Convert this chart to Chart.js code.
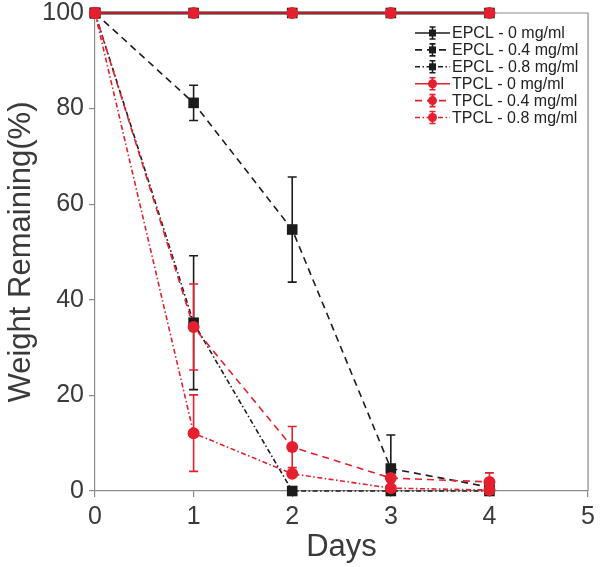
<!DOCTYPE html>
<html>
<head>
<meta charset="utf-8">
<script src="https://cdn.jsdelivr.net/npm/chart.js@4"></script>
<style>
  html, body { margin: 0; padding: 0; background: #fff; }
  #wrap { width: 600px; height: 567px; }
</style>
</head>
<body>
<div id="wrap"><canvas id="weightChart" width="600" height="567"></canvas></div>
<script>
// data
const days = [0, 1, 2, 3, 4];
const xTicks = [0, 1, 2, 3, 4, 5];
const yTicks = [0, 20, 40, 60, 80, 100];

const seriesLabels = [
    'EPCL - 0 mg/ml', 'EPCL - 0.4 mg/ml', 'EPCL - 0.8 mg/ml',
    'TPCL - 0 mg/ml', 'TPCL - 0.4 mg/ml', 'TPCL - 0.8 mg/ml'
];

const epcl0 = [100, 100, 100, 100, 100];
const epcl0Err = [0, 0, 0, 0, 0];
const epcl04 = [100, 81.2, 54.7, 4.7, 0.8];
const epcl04Err = [0, 3.7, 11, 7, 0];
const epcl08 = [100, 35.2, 0, 0, 0];
const epcl08Err = [0, 14, 0, 0, 0];

const tpcl0 = [100, 100, 100, 100, 100];
const tpcl0Err = [0, 0, 0, 0, 0];
const tpcl04 = [100, 34.3, 9.2, 2.7, 1.9];
const tpcl04Err = [0, 9, 4.3, 0, 1.9];
const tpcl08 = [100, 12.1, 3.6, 0.6, 0.2];
const tpcl08Err = [0, 8, 0, 0, 0];

const BLACK = '#1c1c1c';
const RED = '#e4202f';
const AXIS = '#8a8a8a';
const TEXT = '#3a3a3a';
const FONT = "'Liberation Sans', Arial, sans-serif";

function makeSet(label, values, errors, color, dash, style, order) {
    return {
        label: label,
        data: days.map((d, i) => ({ x: d, y: values[i] })),
        errors: errors,
        borderColor: color,
        backgroundColor: color,
        borderWidth: 1.6,
        borderDash: dash,
        pointStyle: style,
        pointRadius: style === 'rect' ? 7.5 : 6,
        pointBorderWidth: 0,
        tension: 0,
        clip: false,
        order: order
    };
}

const datasets = [
    makeSet(seriesLabels[0], epcl0, epcl0Err, BLACK, [], 'rect', 2),
    makeSet(seriesLabels[1], epcl04, epcl04Err, BLACK, [7, 5], 'rect', 2),
    makeSet(seriesLabels[2], epcl08, epcl08Err, BLACK, [5, 2.5, 1.5, 2.5], 'rect', 2),
    makeSet(seriesLabels[3], tpcl0, tpcl0Err, RED, [], 'circle', 1),
    makeSet(seriesLabels[4], tpcl04, tpcl04Err, RED, [7, 5], 'circle', 1),
    makeSet(seriesLabels[5], tpcl08, tpcl08Err, RED, [5, 2.5, 1.5, 2.5], 'circle', 1)
];
datasets[0].borderWidth = 3;

// vertical error bars with caps, drawn under the markers
const errorBars = {
    id: 'errorBars',
    beforeDatasetsDraw(chart) {
        const ctx = chart.ctx;
        const xs = chart.scales.x, ys = chart.scales.y;
        ctx.save();
        chart.data.datasets.forEach(ds => {
            ds.data.forEach((p, i) => {
                const e = ds.errors[i];
                if (!e) return;
                const x = xs.getPixelForValue(p.x);
                const top = ys.getPixelForValue(p.y + e);
                const bot = ys.getPixelForValue(Math.max(p.y - e, 0));
                ctx.strokeStyle = ds.borderColor;
                ctx.lineWidth = 1.6;
                ctx.setLineDash([]);
                ctx.beginPath();
                ctx.moveTo(x, top); ctx.lineTo(x, bot);
                ctx.moveTo(x - 4.5, top); ctx.lineTo(x + 4.5, top);
                ctx.moveTo(x - 4.5, bot); ctx.lineTo(x + 4.5, bot);
                ctx.stroke();
            });
        });
        ctx.restore();
    }
};

// grey frame round the plot (top + right) and legend in the upper right
const frameAndLegend = {
    id: 'frameAndLegend',
    beforeDatasetsDraw(chart) {
        const ctx = chart.ctx;
        const a = chart.chartArea;
        ctx.save();
        ctx.strokeStyle = AXIS;
        ctx.lineWidth = 1.2;
        ctx.beginPath();
        ctx.moveTo(a.left, a.top); ctx.lineTo(a.right, a.top); ctx.lineTo(a.right, a.bottom);
        ctx.stroke();
        ctx.restore();
    },
    afterDraw(chart) {
        const ctx = chart.ctx;
        ctx.save();
        const x0 = 415, x1 = 450, mx = 432.5, tx = 452;
        chart.data.datasets.forEach((ds, i) => {
            const y = 33 + i * 16.9;
            ctx.strokeStyle = ds.borderColor;
            ctx.fillStyle = ds.borderColor;
            ctx.lineWidth = 1.6;
            ctx.setLineDash(ds.borderDash);
            ctx.beginPath();
            ctx.moveTo(x0, y); ctx.lineTo(x1, y);
            ctx.stroke();
            ctx.setLineDash([]);
            ctx.beginPath();
            ctx.moveTo(mx, y - 6); ctx.lineTo(mx, y + 6);
            ctx.moveTo(mx - 3, y - 6); ctx.lineTo(mx + 3, y - 6);
            ctx.moveTo(mx - 3, y + 6); ctx.lineTo(mx + 3, y + 6);
            ctx.stroke();
            ctx.beginPath();
            if (ds.pointStyle === 'rect') {
                ctx.rect(mx - 3.5, y - 3.5, 7, 7);
            } else {
                ctx.arc(mx, y, 4.5, 0, Math.PI * 2);
            }
            ctx.fill();
            ctx.fillStyle = '#222';
            ctx.font = '16px ' + FONT;
            ctx.textBaseline = 'middle';
            ctx.textAlign = 'left';
            ctx.fillText(ds.label, tx, y + 1);
        });
        ctx.restore();
    }
};

new Chart(document.getElementById('weightChart'), {
    type: 'line',
    data: { datasets: datasets },
    options: {
        responsive: false,
        animation: false,
        devicePixelRatio: 1,
        layout: { padding: { top: 13, right: 8, left: 0, bottom: 0 } },
        plugins: {
            legend: { display: false },
            tooltip: { enabled: false }
        },
        scales: {
            x: {
                type: 'linear',
                min: 0,
                max: 5,
                afterFit: s => { s.height = 76; },
                afterBuildTicks: s => { s.ticks = xTicks.map(v => ({ value: v })); },
                ticks: { color: TEXT, font: { family: FONT, size: 25 }, padding: 5 },
                grid: { drawOnChartArea: false, drawTicks: true, tickLength: 6, color: AXIS, lineWidth: 1.2 },
                border: { color: AXIS, width: 1.2 },
                title: { display: true, text: 'Days', color: TEXT, font: { family: FONT, size: 31 }, padding: { top: 0, bottom: 1 } }
            },
            y: {
                min: 0,
                max: 100,
                afterFit: s => { s.width = 95; s.paddingTop = 0; s.paddingBottom = 0; },
                afterBuildTicks: s => { s.ticks = yTicks.map(v => ({ value: v })); },
                ticks: { color: TEXT, font: { family: FONT, size: 25, lineHeight: 1 }, padding: 5 },
                grid: { drawOnChartArea: false, drawTicks: true, tickLength: 6, color: AXIS, lineWidth: 1.2 },
                border: { color: AXIS, width: 1.2 },
                title: { display: true, text: 'Weight Remaining(%)', color: TEXT, font: { family: FONT, size: 31 }, padding: { top: 3, bottom: 0 } }
            }
        }
    },
    plugins: [errorBars, frameAndLegend]
});
</script>
</body>
</html>
